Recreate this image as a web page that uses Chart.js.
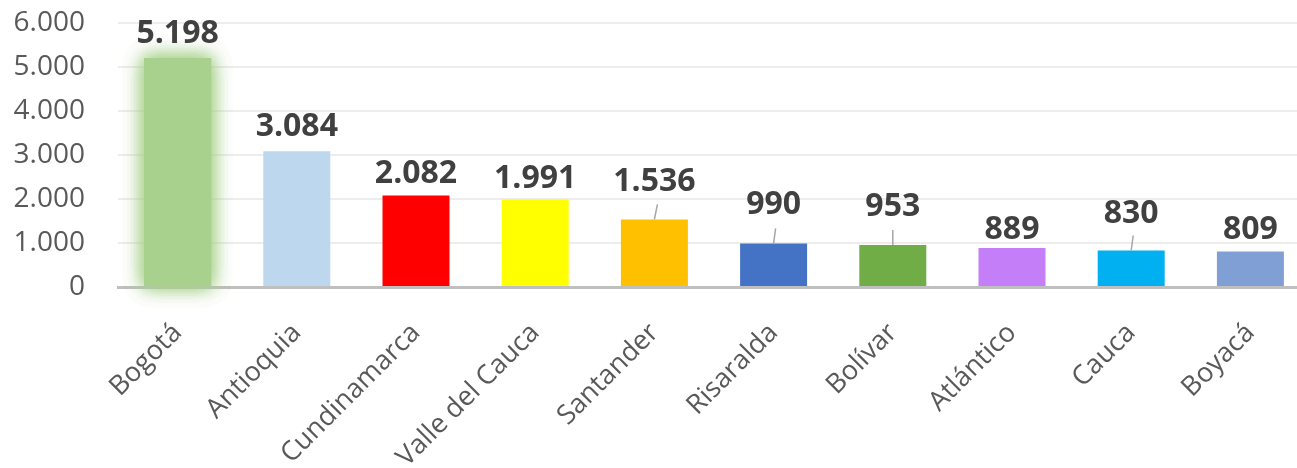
<!DOCTYPE html>
<html>
<head>
<meta charset="utf-8">
<script src="https://cdn.jsdelivr.net/npm/chart.js@4/dist/chart.umd.min.js"></script>
<style>
  html, body { margin: 0; padding: 0; background: #fff; overflow: hidden; }
  #wrap { width: 1310px; height: 468px; position: relative; }
</style>
</head>
<body>
<div id="wrap"><canvas id="canvas-1"></canvas></div>
<script>
// departamentos y valores
var departamentos = ['Bogotá', 'Antioquia', 'Cundinamarca', 'Valle del Cauca', 'Santander',
                     'Risaralda', 'Bolívar', 'Atlántico', 'Cauca', 'Boyacá'];
var valores = [5198, 3084, 2082, 1991, 1536, 990, 953, 889, 830, 809];
var colores = ['#A9D18E', '#BDD7EE', '#FF0000', '#FFFF00', '#FFC000',
               '#4472C4', '#70AD47', '#C47FF8', '#00B0F0', '#7F9FD5'];
var yTicks = [0, 1000, 2000, 3000, 4000, 5000, 6000];

function formatoMiles(v) {
    return String(v).replace(/\B(?=(\d{3})+(?!\d))/g, '.');
}

// glow on the first bar + value labels with small leader lines
var etiquetas = {
    id: 'etiquetas',
    beforeDatasetDraw: function (chart, args, opts) {
        var bar = chart.getDatasetMeta(0).data[0];
        var ctx = chart.ctx;
        ctx.save();
        ctx.fillStyle = opts.glowColor;
        ctx.shadowColor = opts.glowColor;
        ctx.shadowBlur = 18;
        for (var k = 0; k < 3; k++) {
            ctx.fillRect(bar.x - bar.width / 2, bar.y, bar.width, bar.base - bar.y);
        }
        ctx.restore();
    },
    afterDatasetsDraw: function (chart, args, opts) {
        var ctx = chart.ctx;
        var meta = chart.getDatasetMeta(0);
        ctx.save();
        ctx.font = 'bold 32px "Open Sans"';
        ctx.fillStyle = '#404040';
        ctx.textAlign = 'center';
        ctx.textBaseline = 'alphabetic';
        meta.data.forEach(function (bar, i) {
            var lift = opts.lift[i];
            ctx.fillText(formatoMiles(valores[i]), bar.x, bar.y - lift + 11);
            var dx = opts.leaders[i];
            if (dx !== null) {
                ctx.strokeStyle = '#A6A6A6';
                ctx.lineWidth = 1.5;
                ctx.beginPath();
                ctx.moveTo(bar.x, bar.y);
                ctx.lineTo(bar.x + dx, bar.y - 15);
                ctx.stroke();
            }
        });
        ctx.restore();
    }
};

var ctx = document.getElementById('canvas-1');
var chart = new Chart(ctx, {
    type: 'bar',
    data: {
        labels: departamentos,
        datasets: [{
            data: valores,
            backgroundColor: colores,
            borderWidth: 0,
            categoryPercentage: 1,
            barPercentage: 0.562
        }]
    },
    options: {
        responsive: true,
        maintainAspectRatio: false,
        animation: false,
        layout: { padding: { top: 23, left: 0, right: 0, bottom: 0 } },
        plugins: {
            legend: { display: false },
            tooltip: { enabled: false },
            etiquetas: {
                glowColor: 'rgba(169,209,142,0.9)',
                lift: [26, 26, 23, 22, 39, 40, 40, 20, 38, 23],
                leaders: [null, null, null, null, 3, 2, 0, null, 2, null]
            }
        },
        scales: {
            x: {
                grid: { display: false, drawTicks: false },
                border: { display: true, color: '#BFBFBF', width: 3 },
                ticks: {
                    color: '#595959',
                    font: { family: 'Open Sans', size: 27 },
                    minRotation: 45,
                    maxRotation: 45,
                    autoSkip: false,
                    padding: 30
                },
                afterFit: function (scale) { scale.height = 468 - 287; }
            },
            y: {
                min: 0,
                max: 6000,
                afterBuildTicks: function (scale) {
                    scale.ticks = yTicks.map(function (v) { return { value: v }; });
                },
                grid: { color: '#EDEDED', lineWidth: 2, drawTicks: false },
                border: { display: false },
                ticks: {
                    color: '#595959',
                    font: { family: 'Open Sans', size: 28 },
                    padding: 33,
                    callback: function (v) { return formatoMiles(v); }
                },
                afterFit: function (scale) {
                    scale.width = 118;
                    scale.paddingTop = 0;
                    scale.paddingBottom = 0;
                }
            }
        }
    },
    plugins: [etiquetas]
});
</script>
</body>
</html>
